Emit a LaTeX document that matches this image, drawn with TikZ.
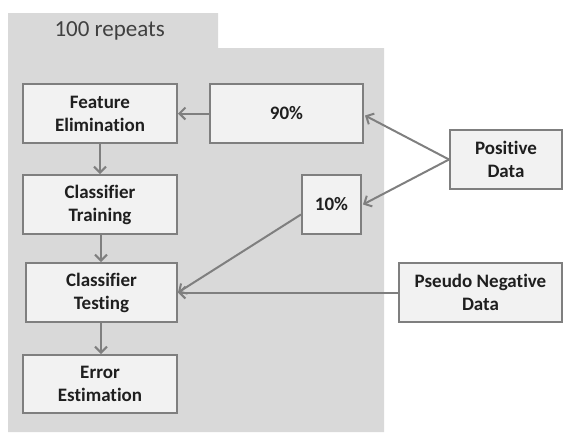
\documentclass[tikz,border=0pt]{standalone}
\usepackage{fontspec}
\setmainfont{Carlito}[RawFeature=-liga]
\usetikzlibrary{arrows.meta,calc}
\definecolor{regiongray}{HTML}{D9D9D9}
\definecolor{boxfill}{HTML}{F2F2F2}
\definecolor{edgegray}{HTML}{7F7F7F}
\definecolor{txtdark}{HTML}{1F1F1F}
\definecolor{lbl}{HTML}{404040}
\tikzset{
  stepbox/.style={draw=edgegray, line width=2pt, fill=boxfill, align=center,
    font=\fontsize{19}{23}\selectfont\bfseries, text=txtdark, inner sep=0pt},
  conn/.style={draw=edgegray, line width=2pt, -{Straight Barb[length=6pt,width=12pt,line width=2pt]}},
}
\begin{document}
\begin{tikzpicture}[x=1pt,y=-1pt]
\useasboundingbox (0,0) rectangle (563,434);
\fill[regiongray] (8,13) -- (218,13) -- (218,48) -- (384,48) -- (384,432) -- (8,432) -- cycle;
\node[anchor=west, text=lbl, font=\fontsize{23}{27}\selectfont] (rep) at (51,31) {100 repeats};
\node[stepbox, minimum width=154pt, minimum height=59pt] (fe) at (100,113.5) {Feature\\Elimination};
\node[stepbox, minimum width=153pt, minimum height=59pt] (ninety) at (286.5,113.5) {90\%};
\node[stepbox, minimum width=154pt, minimum height=59pt] (ctr) at (100,204.5) {Classifier\\Training};
\node[stepbox, minimum width=151pt, minimum height=59pt] (cte) at (101.5,292.5) {Classifier\\Testing};
\node[stepbox, minimum width=154pt, minimum height=58pt] (ee) at (100,384) {Error\\Estimation};
\node[stepbox, minimum width=59pt, minimum height=59pt] (ten) at (331.5,204.5) {10\%};
\node[stepbox, minimum width=112pt, minimum height=59pt] (pos) at (506,159.5) {Positive\\Data};
\node[stepbox, minimum width=163pt, minimum height=59pt] (neg) at (480.5,292.5) {Pseudo Negative\\Data};
\draw[conn] (ninety.west) -- (fe.east);
\draw[conn] (fe.south) -- (ctr.north);
\draw[conn] ([xshift=1pt]ctr.south) -- ([xshift=1pt]ctr.south |- cte.north);
\draw[conn] ([xshift=1pt]cte.south -| ctr.south) -- ([xshift=1pt]ee.north);
\draw[conn] (pos.west) -- ($(ninety.east)+(1,2)$);
\draw[conn] (pos.west) -- ($(ten.east)+(1,0)$);
\draw[conn] ($(ten.west)+(0,10)$) -- (cte.east);
\draw[conn] (neg.west) -- (cte.east);
\end{tikzpicture}
\end{document}
